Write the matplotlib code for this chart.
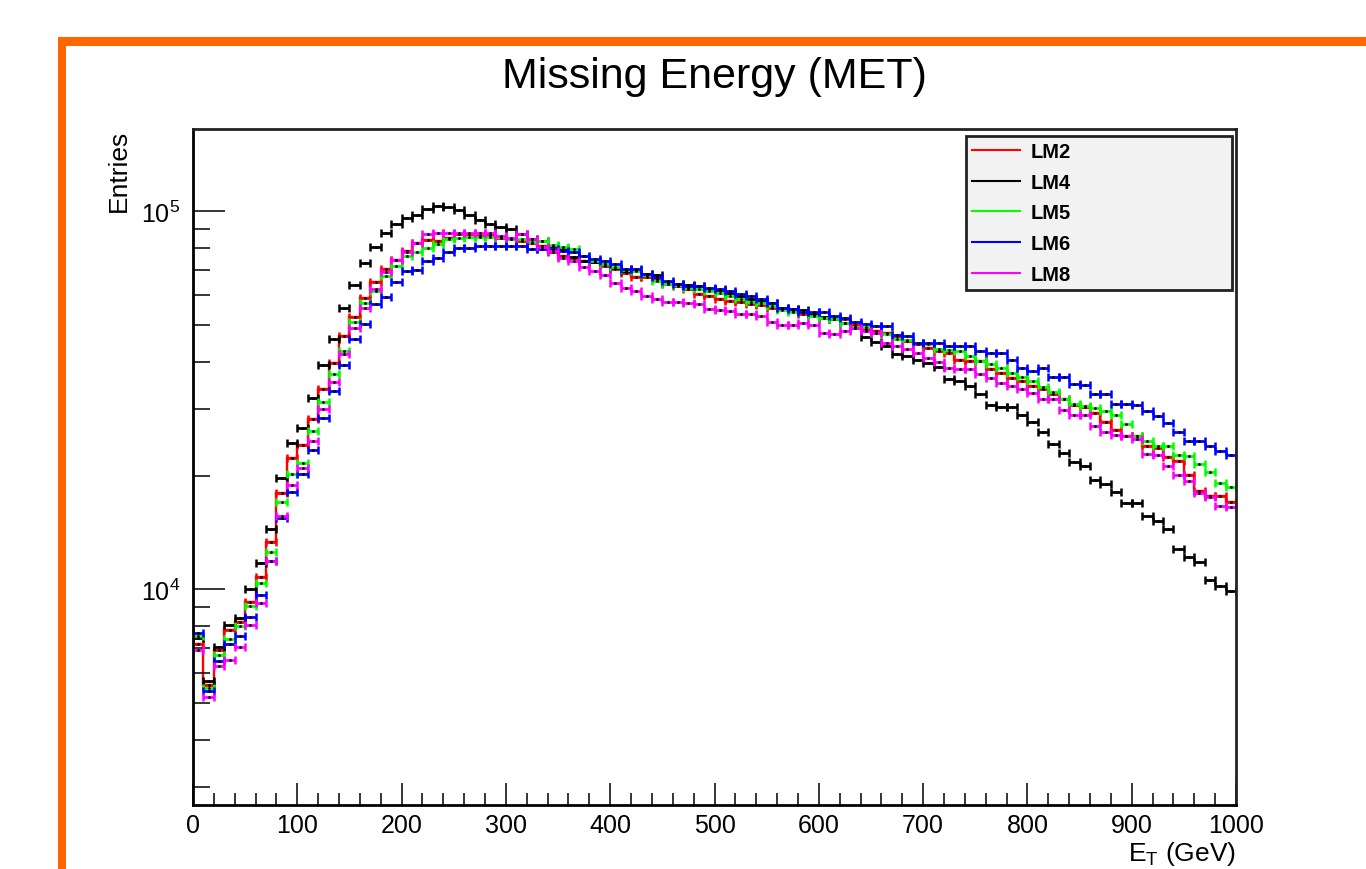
import numpy as np
import matplotlib
matplotlib.use('Agg')
import matplotlib.pyplot as plt
from matplotlib.lines import Line2D
from matplotlib.patches import Rectangle
from matplotlib.ticker import LogLocator, MultipleLocator, NullFormatter

plt.rcParams['font.family'] = ['Liberation Sans', 'DejaVu Sans']
plt.rcParams['mathtext.fontset'] = 'custom'
plt.rcParams['mathtext.rm'] = 'Liberation Sans'

# MET histograms, 100 bins of 10 GeV
bin_edges = np.arange(0, 1001, 10)

lm2 = [7150, 5600, 6900, 7790, 8200, 9240, 10800, 13310, 17940, 22220,
       24050, 28170, 33800, 39800, 46800, 52600, 59100, 65000, 70300, 74200,
       78500, 82600, 84000, 83400, 85100, 86900, 86900, 86000, 86400, 85100,
       84600, 83400, 82600, 81000, 78000, 76200, 75400, 73900, 73200, 71600,
       70300, 68800, 67000, 66800, 66100, 64100, 63500, 62200, 60300, 59700,
       58500, 57900, 57500, 56700, 56400, 55600, 55300, 54500, 53400, 53400,
       52300, 51800, 51800, 49900, 48900, 48200, 47700, 46800, 45400, 44500,
       43600, 42700, 42300, 40400, 40100, 40100, 38200, 37400, 36300, 35600,
       34400, 33900, 32800, 31800, 30700, 30400, 29300, 27700, 26400, 25500,
       25400, 23900, 23700, 22400, 21800, 20100, 18200, 17700, 17700, 17000]

lm4 = [7420, 5740, 7030, 8030, 8380, 10000, 11720, 14400, 19660, 24330,
       26660, 32100, 39100, 46000, 55500, 64000, 73000, 80500, 87500, 92300,
       96000, 98000, 101500, 103000, 102500, 100500, 97500, 95000, 92500, 91000,
       89600, 86800, 84600, 83400, 81000, 79300, 75700, 73900, 73200, 72400,
       70700, 69600, 69900, 68100, 67700, 64700, 64100, 63800, 63500, 62200,
       61900, 60700, 59700, 58700, 57900, 57100, 55600, 55100, 54800, 53100,
       52650, 52000, 50550, 49200, 46400, 45100, 44000, 41900, 41400, 40400,
       39800, 38800, 35900, 35600, 34400, 32800, 30700, 30400, 30400, 29000,
       27700, 26100, 24300, 23000, 21700, 21200, 19500, 18950, 18100, 16900,
       16900, 15600, 15200, 14400, 12800, 12200, 11800, 10600, 10200, 9900]

lm5 = [7510, 5500, 6690, 7370, 7980, 9020, 10370, 12530, 16980, 20150,
       21530, 26170, 31250, 37100, 42700, 50800, 57300, 61500, 67400, 71600,
       76200, 78200, 80100, 81800, 84300, 85100, 85700, 85700, 85700, 85700,
       84300, 84600, 83000, 83500, 81400, 80500, 79300, 76200, 73900, 72400,
       71000, 69900, 69300, 67900, 65500, 64100, 63900, 62800, 62200, 61500,
       60700, 59700, 58700, 57500, 57300, 56100, 54800, 54200, 54000, 52800,
       52300, 51800, 50750, 49550, 49300, 47600, 47300, 46000, 45700, 44900,
       44500, 43200, 42900, 42700, 41400, 40200, 39400, 38600, 37300, 36500,
       35600, 34200, 33300, 31900, 31000, 30600, 30200, 29600, 29000, 27400,
       25400, 24700, 23900, 23900, 22600, 22500, 21500, 20400, 19100, 18600]

lm6 = [7660, 5370, 6450, 7150, 7510, 8430, 9640, 11860, 15400, 18060,
       20250, 23300, 28350, 33500, 39100, 46000, 50300, 56800, 59500, 65000,
       69600, 69900, 73900, 75400, 77800, 79700, 79700, 80900, 80900, 80900,
       80900, 80900, 79300, 79300, 79500, 78500, 77800, 76200, 74600, 73900,
       72400, 70300, 70300, 68100, 66800, 65500, 64400, 63500, 63500, 62500,
       62200, 61500, 60300, 59700, 58500, 57300, 55600, 55100, 54200, 54000,
       54000, 52800, 52300, 51000, 50300, 49800, 49800, 47000, 46700, 44900,
       44900, 44900, 44000, 44000, 44000, 42700, 42300, 42300, 40400, 38600,
       37800, 38600, 36500, 36500, 34900, 34700, 32800, 32800, 31000, 31000,
       30700, 29600, 28700, 27600, 26000, 24700, 24700, 23900, 23200, 22700]

lm8 = [6900, 5180, 6260, 6490, 7060, 8030, 9180, 11860, 15600, 18860,
       20900, 24690, 29960, 35400, 41900, 49200, 55600, 62200, 69100, 74200,
       77800, 82600, 86900, 87800, 87800, 87800, 87800, 87800, 87800, 86100,
       85100, 86900, 84300, 80500, 78500, 75400, 73900, 71000, 69600, 67700,
       64700, 62800, 61500, 59700, 58500, 57700, 57700, 57300, 57000, 55100,
       54700, 54500, 53400, 53400, 52800, 50900, 49900, 49900, 50750, 49900,
       47700, 47300, 48200, 49200, 48200, 47700, 44900, 44000, 43300, 42300,
       41000, 39900, 38500, 38200, 38200, 37100, 36300, 35200, 34600, 33800,
       33000, 31800, 31800, 29900, 29000, 29000, 27000, 26000, 25600, 25500,
       25000, 22800, 22600, 21200, 20100, 19400, 18000, 17500, 16600, 16500]

labels = ['LM2', 'LM4', 'LM5', 'LM6', 'LM8']
colors = ['#ff0000', '#000000', '#00ff00', '#0000ff', '#ff00ff']
series = [lm2, lm4, lm5, lm6, lm8]

fig = plt.figure(figsize=(13.66, 8.7), dpi=100)
fig.patch.set_facecolor('white')

# orange frame (top and left)
fig.add_artist(Rectangle((58/1366, 1-47/870), 1-58/1366, 9/870,
                         transform=fig.transFigure, color='#ff6600', lw=0))
fig.add_artist(Rectangle((58/1366, 0), 8/1366, 1-38/870,
                         transform=fig.transFigure, color='#ff6600', lw=0))

ax = fig.add_axes([193/1366, 64/870, 1043/1366, 676/870])

centers = 0.5*(bin_edges[:-1] + bin_edges[1:])
half = 0.5*np.diff(bin_edges)

for vals, c in zip(series, colors):
    vals = np.array(vals, dtype=float)
    if c == '#ff0000':
        ax.stairs(vals, bin_edges, color=c, lw=1.7, baseline=None)
    ax.errorbar(centers, vals, xerr=half, fmt='.', color='k', ms=2.0,
                ecolor=c, elinewidth=2.0, capsize=2.8, capthick=1.8)

ax.set_yscale('log')
ax.set_xlim(0, 1000)
ax.set_ylim(2690, 165000)

ax.xaxis.set_major_locator(MultipleLocator(100))
ax.xaxis.set_minor_locator(MultipleLocator(20))
ax.yaxis.set_major_locator(LogLocator(base=10))
ax.yaxis.set_minor_locator(LogLocator(base=10, subs=np.arange(2, 10)))
ax.yaxis.set_minor_formatter(NullFormatter())

ax.tick_params(axis='x', which='major', direction='in', length=16, width=1.1,
               labelsize=18, pad=6, top=False)
ax.tick_params(axis='x', which='minor', direction='in', length=8.5, width=1.1,
               top=False)
ax.tick_params(axis='y', which='major', direction='in', length=23, width=1.1,
               labelsize=18, pad=9, right=False)
ax.tick_params(axis='y', which='minor', direction='in', length=12, width=1.1,
               right=False)

for s in ['top', 'right', 'bottom', 'left']:
    ax.spines[s].set_linewidth(2)
    ax.spines[s].set_color('#222222')
ax.spines['left'].set_color('black')
ax.spines['bottom'].set_color('black')

ax.set_title('Missing Energy (MET)', fontsize=31, pad=30)
ax.set_ylabel('Entries', fontsize=19, loc='top')
ax.yaxis.set_label_coords(-0.060, 1.0)
ax.set_xlabel(r'E$_{\mathrm{T}}$ (GeV)', fontsize=19, loc='right', labelpad=1)

handles = [Line2D([0], [0], color=c, lw=1.5) for c in colors]
leg = ax.legend(handles, labels, loc='upper left',
                bbox_to_anchor=(0.741, 0.9896, 0.255, 0.0), mode='expand',
                prop={'weight': 'bold', 'size': 14.5}, frameon=True,
                fancybox=False, borderpad=0.3, labelspacing=0.58,
                handlelength=2.4, handletextpad=0.5, borderaxespad=0)
leg.get_frame().set_facecolor('#f2f2f2')
leg.get_frame().set_edgecolor('#222222')
leg.get_frame().set_linewidth(2)
leg.get_frame().set_alpha(1)

fig.savefig('out.png', dpi=100)
